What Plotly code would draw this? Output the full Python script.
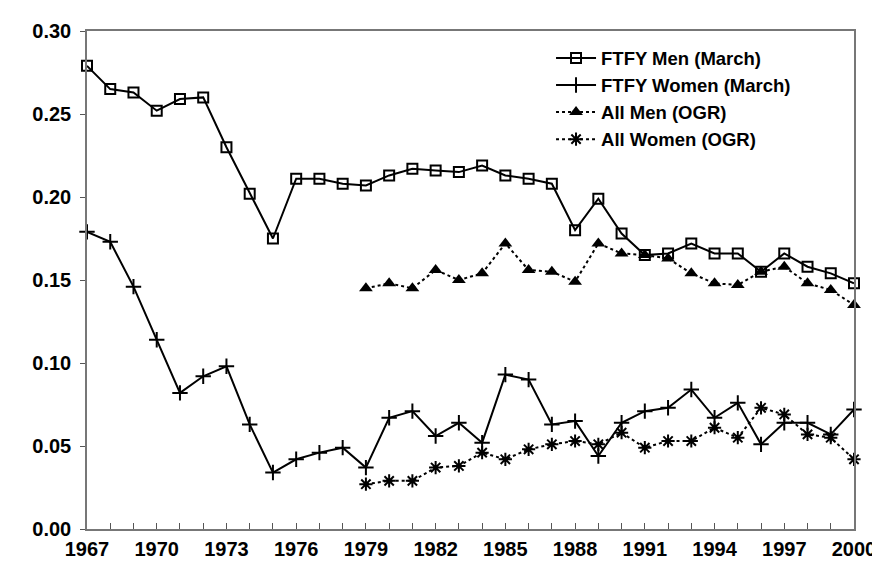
import plotly.graph_objects as go

years = list(range(1967, 2001))
ogr_years = list(range(1979, 2001))

ftfy_men = [0.279, 0.265, 0.263, 0.252, 0.259, 0.260, 0.230, 0.202, 0.175, 0.211,
            0.211, 0.208, 0.207, 0.213, 0.217, 0.216, 0.215, 0.219, 0.213, 0.211,
            0.208, 0.180, 0.199, 0.178, 0.165, 0.166, 0.172, 0.166, 0.166, 0.155,
            0.166, 0.158, 0.154, 0.148]
ftfy_women = [0.179, 0.173, 0.146, 0.114, 0.082, 0.092, 0.098, 0.063, 0.034, 0.042,
              0.046, 0.049, 0.037, 0.067, 0.071, 0.056, 0.064, 0.052, 0.093, 0.090,
              0.063, 0.065, 0.044, 0.064, 0.071, 0.073, 0.084, 0.067, 0.076, 0.051,
              0.064, 0.064, 0.057, 0.072]
all_men = [0.145, 0.148, 0.145, 0.156, 0.150, 0.154, 0.172, 0.156, 0.155, 0.149,
           0.172, 0.166, 0.165, 0.163, 0.154, 0.148, 0.147, 0.155, 0.158, 0.148,
           0.144, 0.135]
all_women = [0.027, 0.029, 0.029, 0.037, 0.038, 0.046, 0.042, 0.048, 0.051, 0.053,
             0.051, 0.058, 0.049, 0.053, 0.053, 0.061, 0.055, 0.073, 0.069, 0.057,
             0.055, 0.042]

tick_years = list(range(1967, 2001, 3))
y_ticks = [0.00, 0.05, 0.10, 0.15, 0.20, 0.25, 0.30]

font_family = "Liberation Sans, Arial, sans-serif"

fig = go.Figure()
fig.add_trace(go.Scatter(
    x=years, y=ftfy_men, name="FTFY Men (March)", mode="lines+markers",
    line=dict(color="black", width=2),
    marker=dict(symbol="square-open", size=10, color="black", line=dict(width=2)),
    cliponaxis=False))
fig.add_trace(go.Scatter(
    x=years, y=ftfy_women, name="FTFY Women (March)", mode="lines+markers",
    line=dict(color="black", width=2),
    marker=dict(symbol="cross-thin-open", size=11, color="black", line=dict(width=2, color="black")),
    cliponaxis=False))
fig.add_trace(go.Scatter(
    x=ogr_years, y=all_men, name="All Men (OGR)", mode="lines+markers",
    line=dict(color="black", width=2, dash="dot"),
    marker=dict(symbol="triangle-up", size=12, color="black"),
    cliponaxis=False))
fig.add_trace(go.Scatter(
    x=ogr_years, y=all_women, name="All Women (OGR)", mode="lines+markers",
    line=dict(color="black", width=2, dash="dot"),
    marker=dict(symbol="asterisk-open", size=11, color="black", line=dict(width=2, color="black")),
    cliponaxis=False))

fig.update_layout(
    width=880, height=564,
    margin=dict(l=79, r=28, t=14, b=42),
    paper_bgcolor="white", plot_bgcolor="white",
    font=dict(family=font_family, size=20, color="black"),
    showlegend=True,
    legend=dict(x=0.605, y=0.983, xanchor="left", yanchor="top",
                bgcolor="rgba(0,0,0,0)", font=dict(size=18.5, family=font_family, weight="bold"),
                itemwidth=40),
    xaxis=dict(range=[1967, 2000], tickvals=tick_years, ticktext=[str(t) for t in tick_years],
               ticks="inside", ticklen=6, tickcolor="#555",
               minor=dict(dtick=1, tick0=1967, ticks="inside", ticklen=6, tickcolor="#555"),
               showgrid=False, zeroline=False, showline=True, linecolor="#777", linewidth=1.5,
               mirror=True, ticklabelstandoff=1,
               tickfont=dict(size=20, family=font_family, weight="bold")),
    yaxis=dict(range=[0, 0.30], tickvals=y_ticks, ticktext=[f"{v:.2f}" for v in y_ticks],
               ticks="outside", ticklen=5, tickcolor="#555",
               showgrid=False, zeroline=False, showline=True, linecolor="#777", linewidth=1.5,
               mirror=True, ticklabelstandoff=5,
               tickfont=dict(size=20, family=font_family, weight="bold")),
)

fig.write_html("out.html")
